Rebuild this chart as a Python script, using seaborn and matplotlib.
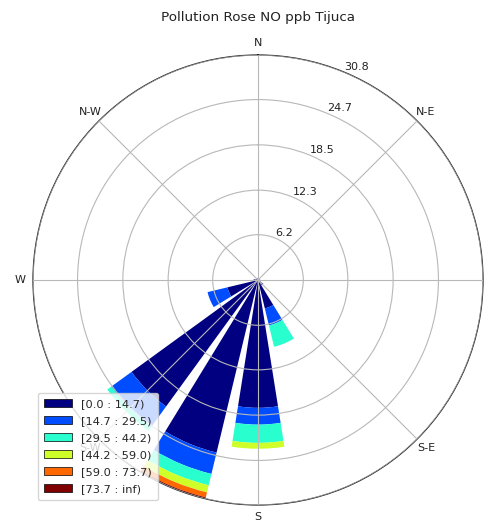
import numpy as np
import matplotlib
matplotlib.use("Agg")
import matplotlib.pyplot as plt
from matplotlib.patches import Patch
import seaborn as sns

# 16 wind sectors, clockwise from north
directions = ["N", "NNE", "NE", "ENE", "E", "ESE", "SE", "SSE",
              "S", "SSW", "SW", "WSW", "W", "WNW", "NW", "NNW"]
sector_angles = [0.0, 22.5, 45.0, 67.5, 90.0, 112.5, 135.0, 157.5,
                 180.0, 202.5, 225.0, 247.5, 270.0, 292.5, 315.0, 337.5]

# frequency (%) of each NO concentration class per sector
freq_0_14 = [0.3, 0.2, 0.2, 0.2, 0.3, 0.4, 0.9, 4.0,
             17.5, 24.3, 21.4, 4.3, 0.6, 0.3, 0.2, 0.2]
freq_14_29 = [0.0, 0.0, 0.0, 0.0, 0.0, 0.0, 0.0, 2.4,
              2.3, 3.0, 3.4, 2.8, 0.0, 0.0, 0.0, 0.0]
freq_29_44 = [0.0, 0.0, 0.0, 0.0, 0.0, 0.0, 0.0, 3.0,
              2.5, 1.6, 0.7, 0.0, 0.0, 0.0, 0.0, 0.0]
freq_44_59 = [0.0, 0.0, 0.0, 0.0, 0.0, 0.0, 0.0, 0.0,
              0.8, 1.0, 0.0, 0.0, 0.0, 0.0, 0.0, 0.0]
freq_59_73 = [0.0, 0.0, 0.0, 0.0, 0.0, 0.0, 0.0, 0.0,
              0.0, 0.7, 0.0, 0.0, 0.0, 0.0, 0.0, 0.0]
freq_73_inf = [0.0, 0.0, 0.0, 0.0, 0.0, 0.0, 0.0, 0.0,
               0.0, 0.2, 0.0, 0.0, 0.0, 0.0, 0.0, 0.0]

bin_labels = ["[0.0 : 14.7)", "[14.7 : 29.5)", "[29.5 : 44.2)",
              "[44.2 : 59.0)", "[59.0 : 73.7)", "[73.7 : inf)"]
radial_ticks = [6.2, 12.3, 18.5, 24.7, 30.8]
compass_angles = [0, 45, 90, 135, 180, 225, 270, 315]
compass_labels = ["N", "N-E", "E", "S-E", "S", "S-W", "W", "N-W"]
title = "Pollution Rose NO ppb Tijuca"

sns.set_theme(style="white")
plt.rcParams["font.family"] = ["DejaVu Sans"]

series = [freq_0_14, freq_14_29, freq_29_44, freq_44_59, freq_59_73, freq_73_inf]
cmap = matplotlib.colormaps["jet"]
palette = sns.color_palette([cmap(v) for v in np.linspace(0, 1, len(series))])

fig = plt.figure(figsize=(4.93, 5.25), dpi=100)
ax = fig.add_axes([33 / 493, 20 / 525, 450 / 493, 450 / 525], projection="polar")
ax.set_theta_zero_location("N")
ax.set_theta_direction(-1)

theta = np.deg2rad(sector_angles)
width = np.deg2rad(22.5) * 0.8
bottom = np.zeros(len(directions))
for vals, col in zip(series, palette):
    vals = np.asarray(vals, dtype=float)
    ax.bar(theta, vals, width=width, bottom=bottom, color=col,
           edgecolor="none", linewidth=0, align="center", zorder=1)
    bottom += vals

ax.set_ylim(0, max(radial_ticks))
ax.set_rgrids(radial_ticks, labels=[f"{t:.1f}" for t in radial_ticks],
              angle=22.5, fontsize=8, color="#222222")
ax.set_thetagrids(compass_angles, labels=compass_labels, fontsize=8,
                  color="#222222")
ax.tick_params(axis="x", pad=-4)
ax.set_axisbelow(False)
ax.grid(True, color="#b8b8b8", linewidth=0.8, linestyle="-")
ax.spines["polar"].set_color("#222222")
ax.spines["polar"].set_linewidth(0.9)

handles = [Patch(facecolor=c, edgecolor="black", linewidth=0.5) for c in palette]
ax.legend(handles, bin_labels, loc="lower left", fontsize=8.2,
          framealpha=0.8, borderaxespad=0.45, borderpad=0.55,
          handlelength=2.4, labelspacing=0.6)

fig.text(258 / 493, 1 - 18 / 525, title, ha="center", va="center",
         fontsize=9.7, color="#222222")

fig.savefig("out.png", dpi=100)
